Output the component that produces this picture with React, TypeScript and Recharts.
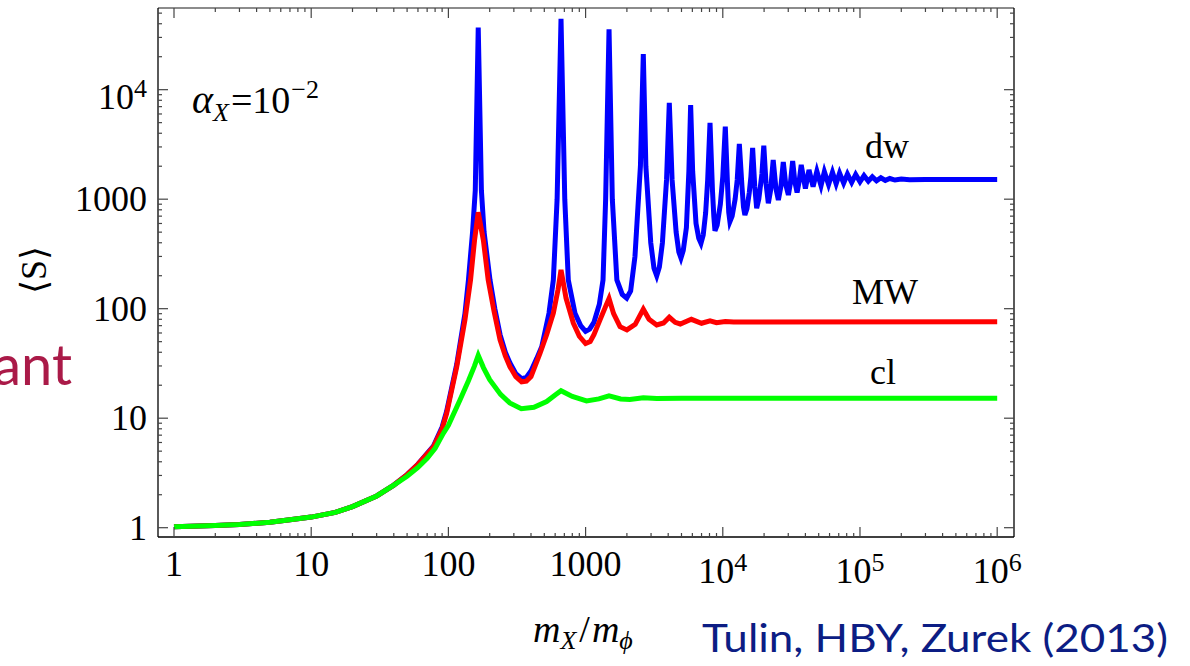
import { Line, LineChart, XAxis, YAxis } from "recharts";

const SERIF = "'Liberation Serif', 'DejaVu Serif', serif";

const X_DOMAIN = [0.7645, 1.326e6];
const Y_DOMAIN = [0.8224, 55700];

const X_MAJOR = [1, 10, 100, 1000, 1e4, 1e5, 1e6];
const X_LABELS: [string, string][] = [
  ["1", ""],
  ["10", ""],
  ["100", ""],
  ["1000", ""],
  ["10", "4"],
  ["10", "5"],
  ["10", "6"],
];
const Y_MAJOR = [1, 10, 100, 1000, 1e4];
const Y_LABELS: [string, string][] = [
  ["1", ""],
  ["10", ""],
  ["100", ""],
  ["1000", ""],
  ["10", "4"],
];
const MINOR_STEPS = [2, 3, 4, 5, 6, 7, 8, 9];

// where all three curves sit on top of each other
const LOW: [number, number][] = [
  [1, 1.02], [2, 1.05], [3, 1.07], [5, 1.12], [7, 1.18], [10, 1.25],
  [15, 1.38], [20, 1.56], [30, 1.95], [40, 2.45],
];

const CL: [number, number][] = [
  [50, 2.95], [60, 3.55], [70, 4.3], [80, 5.3], [92, 7.3], [100, 8.6],
  [121, 14.5], [140, 22], [155, 30], [165, 37.5], [180, 29], [200, 22.5],
  [240, 16.5], [280, 13.8], [340, 12.2], [420, 12.6], [520, 14.2], [600, 16.3],
  [662, 17.8], [800, 15.8], [1016, 14.4], [1250, 15.0], [1482, 16.0], [1800, 15.0],
  [2100, 14.8], [2634, 15.4], [3300, 15.1], [5000, 15.2], [1e6, 15.2],
];

const MW: [number, number][] = [
  [50, 3.05], [60, 3.8], [78, 5.5], [90, 8], [97, 11], [115, 29.5],
  [132, 79], [145, 183], [155, 420], [165, 760], [180, 420], [195, 183],
  [215, 95], [238, 52], [260, 37], [281, 29.5], [310, 24], [342, 21.5],
  [370, 21.8], [400, 24], [465, 39], [520, 58], [582, 91], [630, 150],
  [662, 226], [720, 125], [814, 74], [900, 56], [1000, 48], [1080, 50],
  [1150, 58], [1274, 79], [1400, 105], [1482, 124], [1600, 90], [1782, 68.5],
  [2000, 64], [2300, 72], [2634, 99], [2900, 80], [3300, 71], [3700, 74],
  [4075, 83.5], [4500, 75], [4900, 72.5], [5900, 80], [7000, 73.6], [8070, 77.6],
  [9000, 74.5], [10430, 76.5], [12000, 75.5], [1e6, 76],
];

const DW: [number, number][] = [
  [50, 3.05], [60, 3.8], [78, 5.6], [90, 8.3], [97, 11.5], [115, 31],
  [132, 90], [140, 183], [150, 500], [157, 1200], [165, 37000], [174, 1200],
  [182, 500], [201, 183], [218, 100], [238, 58], [260, 40], [281, 32],
  [310, 25.5], [342, 23], [370, 23.5], [400, 27], [440, 35], [479, 45],
  [541, 91], [582, 183], [620, 1000], [662, 44300], [705, 1000], [748, 183],
  [837, 91], [920, 70], [1000, 62], [1070, 65], [1150, 75], [1260, 110],
  [1340, 183], [1400, 1000], [1482, 35600], [1566, 1000], [1690, 183], [1850, 135],
  [1993, 125], [2130, 145], [2290, 300], [2510, 2000], [2634, 21200], [2750, 2000],
  [2985, 400], [3150, 235], [3300, 200], [3450, 240], [3630, 400], [3890, 1500],
  [4075, 7600], [4270, 1500], [4570, 500], [4780, 330], [4955, 290], [5150, 340],
  [5430, 550], [5660, 1800], [5830, 7250], [6030, 1800], [6380, 600], [6680, 440],
  [6934, 396], [7200, 470], [7500, 750], [7760, 1500], [8070, 4970], [8410, 1200],
  [8600, 700], [8770, 515], [9100, 580], [9600, 900], [10000, 1600], [10430, 4590],
  [10840, 1300], [11050, 760], [11270, 623], [11700, 700], [12300, 1000], [12740, 1500],
  [13200, 3190], [13800, 1300], [14150, 850], [14490, 717], [15000, 820], [15600, 1150],
  [16030, 1600], [16500, 2935], [17100, 1300], [17660, 826], [18300, 1000], [19280, 1700],
  [19900, 3080], [20650, 1400], [21480, 918], [22300, 1200], [23300, 2280], [24400, 1250],
  [25410, 984], [26500, 1300], [27600, 2190], [28800, 1350], [30060, 1092], [31100, 1400],
  [32300, 2235], [33500, 1450], [34800, 1150], [36000, 1450], [37300, 2055], [40000, 1250],
  [42500, 1850], [45500, 1300], [48500, 1800], [52000, 1330], [55000, 1780], [59000, 1360],
  [63000, 1760], [67000, 1380], [71000, 1730], [76000, 1400], [81000, 1700], [87000, 1420],
  [93000, 1680], [100000, 1440], [107000, 1640], [115000, 1460], [123000, 1600], [132000, 1470],
  [142000, 1570], [153000, 1485], [165000, 1545], [180000, 1495], [200000, 1525], [230000, 1505],
  [300000, 1512], [1e6, 1510],
];

const toPoints = (pts: [number, number][]) => pts.map(([x, y]) => ({ x, y }));

const xTicks = X_MAJOR.flatMap((d) => [d, ...MINOR_STEPS.map((m) => m * d)]).filter(
  (v) => v <= X_DOMAIN[1]
);
const yTicks = Y_MAJOR.flatMap((d) => [d, ...MINOR_STEPS.map((m) => m * d)]).filter(
  (v) => v <= Y_DOMAIN[1]
);

const TICK_COLOR = "#444";

function TickLabel({ x, y, label, anchor }: { x: number; y: number; label: [string, string]; anchor: "middle" | "end" }) {
  const [base, exp] = label;
  if (!exp) {
    return (
      <text x={x} y={y} textAnchor={anchor} fontSize={36} fontFamily={SERIF} fill="#000">
        {base}
      </text>
    );
  }
  return (
    <text x={x} y={y + 7} textAnchor={anchor} fontSize={36} fontFamily={SERIF} fill="#000">
      {base}
      <tspan dy={-12} fontSize={26}>
        {exp}
      </tspan>
    </text>
  );
}

function BottomTick(props: any) {
  const { x, y, payload } = props;
  const i = X_MAJOR.indexOf(payload.value);
  const len = i >= 0 ? 10 : 4;
  return (
    <g>
      <line x1={x} y1={y} x2={x} y2={y - len} stroke={TICK_COLOR} strokeWidth={1.2} />
      {i >= 0 && <TickLabel x={x} y={y + 39} label={X_LABELS[i]} anchor="middle" />}
    </g>
  );
}

function TopTick(props: any) {
  const { x, y, payload } = props;
  const len = X_MAJOR.includes(payload.value) ? 10 : 4;
  return <line x1={x} y1={y} x2={x} y2={y + len} stroke={TICK_COLOR} strokeWidth={1.2} />;
}

function LeftTick(props: any) {
  const { x, y, payload } = props;
  const i = Y_MAJOR.indexOf(payload.value);
  const len = i >= 0 ? 10 : 4;
  return (
    <g>
      <line x1={x} y1={y} x2={x + len} y2={y} stroke={TICK_COLOR} strokeWidth={1.2} />
      {i >= 0 && <TickLabel x={x - 11} y={y + 12} label={Y_LABELS[i]} anchor="end" />}
    </g>
  );
}

function RightTick(props: any) {
  const { x, y, payload } = props;
  const len = Y_MAJOR.includes(payload.value) ? 10 : 4;
  return <line x1={x} y1={y} x2={x - len} y2={y} stroke={TICK_COLOR} strokeWidth={1.2} />;
}

export default function App() {
  return (
    <div style={{ position: "absolute", left: 0, top: 0, width: 1190, height: 666, background: "#fff" }}>
      <LineChart
        width={1190}
        height={666}
        margin={{ top: 7, right: 175, bottom: 128, left: 157 }}
        style={{ position: "absolute", left: 0, top: 0 }}
      >
        <XAxis
          dataKey="x"
          type="number"
          scale="log"
          domain={X_DOMAIN}
          allowDataOverflow
          ticks={xTicks}
          interval={0}
          height={1}
          tickSize={0}
          tickMargin={0}
          tick={<BottomTick />}
          axisLine={{ stroke: "#000", strokeWidth: 1.3 }}
        />
        <XAxis
          xAxisId="top"
          orientation="top"
          dataKey="x"
          type="number"
          scale="log"
          domain={X_DOMAIN}
          allowDataOverflow
          ticks={xTicks}
          interval={0}
          height={1}
          tickSize={0}
          tickMargin={0}
          tick={<TopTick />}
          axisLine={{ stroke: "#666", strokeWidth: 1.3 }}
        />
        <YAxis
          dataKey="y"
          type="number"
          scale="log"
          domain={Y_DOMAIN}
          allowDataOverflow
          ticks={yTicks}
          interval={0}
          width={1}
          tickSize={0}
          tickMargin={0}
          tick={<LeftTick />}
          axisLine={{ stroke: "#000", strokeWidth: 1.3 }}
        />
        <YAxis
          yAxisId="right"
          orientation="right"
          dataKey="y"
          type="number"
          scale="log"
          domain={Y_DOMAIN}
          allowDataOverflow
          ticks={yTicks}
          interval={0}
          width={1}
          tickSize={0}
          tickMargin={0}
          tick={<RightTick />}
          axisLine={{ stroke: "#000", strokeWidth: 1.3 }}
        />
        <Line
          data={toPoints([...LOW, ...DW])}
          dataKey="y"
          type="linear"
          stroke="#0000ff"
          strokeWidth={5}
          dot={false}
          isAnimationActive={false}
        />
        <Line
          data={toPoints([...LOW, ...MW])}
          dataKey="y"
          type="linear"
          stroke="#ff0000"
          strokeWidth={5}
          dot={false}
          isAnimationActive={false}
        />
        <Line
          data={toPoints([...LOW, ...CL])}
          dataKey="y"
          type="linear"
          stroke="#00ff00"
          strokeWidth={5}
          dot={false}
          isAnimationActive={false}
        />
      </LineChart>
      <svg
        width={1190}
        height={666}
        style={{ position: "absolute", left: 0, top: 0, pointerEvents: "none" }}
      >
        <text x={192} y={113} fontSize={38} fontFamily={SERIF} fill="#000">
          <tspan fontStyle="italic" fontSize={40}>α</tspan>
          <tspan fontStyle="italic" fontSize={26} dy={8}>X</tspan>
          <tspan dy={-8} dx={2}>=10</tspan>
          <tspan fontSize={26} dy={-15} dx={1}>−2</tspan>
        </text>
        <text x={865} y={158} fontSize={36} fontFamily={SERIF} fill="#000">dw</text>
        <text x={852} y={304} fontSize={36} fontFamily={SERIF} fill="#000">MW</text>
        <text x={870} y={384} fontSize={36} fontFamily={SERIF} fill="#000">cl</text>
        <text transform="translate(46,270) rotate(-90)" textAnchor="middle" fontSize={36} fontFamily={SERIF} fill="#000">
          ⟨S⟩
        </text>
        <text x={533} y={642} fontSize={38} fontFamily={SERIF} fill="#000">
          <tspan fontStyle="italic">m</tspan>
          <tspan fontStyle="italic" fontSize={26} dy={7}>X</tspan>
          <tspan dy={-7} dx={3}>/</tspan>
          <tspan fontStyle="italic" dx={2}>m</tspan>
          <tspan fontStyle="italic" fontSize={26} dy={7}>ϕ</tspan>
        </text>
        <text x={72} y={385} textAnchor="end" fontSize={56} fontFamily="Lato, 'Open Sans', sans-serif" fill="#aa1a48">
          ant
        </text>
        <text
          x={702}
          y={652}
          fontSize={38}
          fontFamily="Lato, 'Open Sans', sans-serif"
          fill="#0c1d84"
          textLength={466}
          lengthAdjust="spacingAndGlyphs"
        >
          Tulin, HBY, Zurek (2013)
        </text>
      </svg>
    </div>
  );
}
